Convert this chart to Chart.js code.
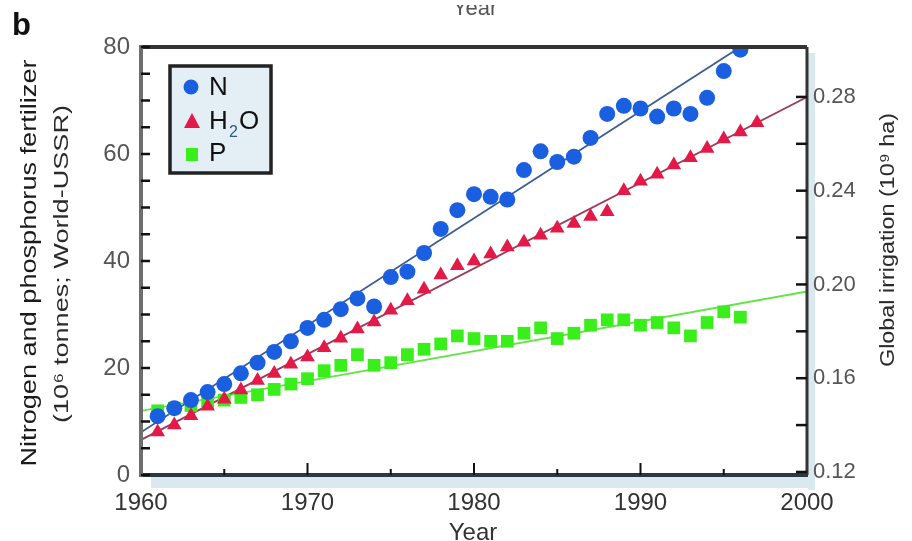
<!DOCTYPE html>
<html>
<head>
<meta charset="utf-8">
<script src="https://cdn.jsdelivr.net/npm/chart.js@4.4.0/dist/chart.umd.min.js"></script>
<style>
body { margin: 0; background: #fff; }
#wrap { position: relative; width: 912px; height: 541px; }
</style>
</head>
<body>
<div id="wrap"><canvas id="fertChart"></canvas></div>
<script>
// fertilizer (10^6 tonnes, left axis)
const nYears = [1961, 1962, 1963, 1964, 1965, 1966, 1967, 1968, 1969, 1970, 1971, 1972, 1973, 1974, 1975, 1976, 1977, 1978,
                1979, 1980, 1981, 1982, 1983, 1984, 1985, 1986, 1987, 1988, 1989, 1990, 1991, 1992, 1993, 1994, 1995, 1996];
const nitrogen = [11, 12.5, 14, 15.5, 17, 19, 21, 23, 25, 27.5, 29, 31, 33, 31.5, 37, 38, 41.5, 46,
                  49.5, 52.5, 52, 51.5, 57, 60.5, 58.5, 59.5, 63, 67.5, 69, 68.5, 67, 68.5, 67.5, 70.5, 75.5, 79.5];
const phosphorus = [12, 12.5, 13, 13.5, 14, 14.5, 15, 16, 17, 18, 19.5, 20.5, 22.5, 20.5, 21, 22.5, 23.5, 24.5,
                    26, 25.5, 25, 25, 26.5, 27.5, 25.5, 26.5, 28, 29, 29, 28, 28.5, 27.5, 26, 28.5, 30.5, 29.5];

// irrigation (10^9 ha, right axis)
const h2oYears = [1961, 1962, 1963, 1964, 1965, 1966, 1967, 1968, 1969, 1970, 1971, 1972, 1973, 1974, 1975, 1976, 1977, 1978, 1979,
                  1980, 1981, 1982, 1983, 1984, 1985, 1986, 1987, 1988, 1989, 1990, 1991, 1992, 1993, 1994, 1995, 1996, 1997];
const irrigation = [0.137, 0.140, 0.144, 0.148, 0.151, 0.155, 0.159, 0.162, 0.166, 0.169, 0.173, 0.177, 0.181, 0.184, 0.189, 0.193, 0.198, 0.204, 0.208,
                    0.210, 0.213, 0.216, 0.218, 0.221, 0.224, 0.226, 0.229, 0.231, 0.240, 0.244, 0.247, 0.251, 0.254, 0.258, 0.262, 0.265, 0.269];

// fitted trend lines (end points)
const nTrendYears = [1960, 1996];
const nTrend = [8, 80];
const h2oTrendYears = [1960, 2000];
const h2oTrend = [0.1337, 0.28];
const pTrendYears = [1960, 2000];
const pTrend = [12, 34.3];

// tick labels
const xTicks = [1960, 1970, 1980, 1990, 2000];
const leftTicks = [0, 20, 40, 60, 80];
const rightTicks = [0.12, 0.16, 0.20, 0.24, 0.28];

const blue = '#1a5fe0';
const red = '#e31a48';
const green = '#3aee1c';

function pts(xs, ys) {
    return xs.map((x, i) => ({ x: x, y: ys[i] }));
}

function vText(ctx, text, cx, cy, font, len, color) {
    ctx.save();
    ctx.font = font;
    const w = ctx.measureText(text).width;
    ctx.translate(cx, cy);
    ctx.rotate(-Math.PI / 2);
    ctx.scale(len / w, 1);
    ctx.fillStyle = color;
    ctx.textAlign = 'center';
    ctx.textBaseline = 'middle';
    ctx.fillText(text, 0, 0);
    ctx.restore();
}

const decorPlugin = {
    id: 'decor',
    beforeDraw(chart) {
        const ctx = chart.ctx;
        const a = chart.chartArea;
        ctx.save();
        // soft blue shadow right and below the frame
        ctx.fillStyle = '#dae8ef';
        ctx.fillRect(a.right + 1, a.top + 6, 7, a.bottom - a.top + 9);
        ctx.fillRect(a.left + 10, a.bottom + 2, a.right - a.left - 2, 11);
        ctx.restore();

        // texts
        ctx.save();
        ctx.fillStyle = '#111';
        ctx.font = 'bold 31px "Liberation Sans", Arial, sans-serif';
        ctx.textBaseline = 'alphabetic';
        ctx.fillText('b', 12, 35);
        // clipped title from the panel above
        ctx.beginPath();
        ctx.rect(0, 5, 912, 20);
        ctx.clip();
        ctx.fillStyle = '#555';
        ctx.font = '22px "Liberation Sans", Arial, sans-serif';
        ctx.textAlign = 'center';
        ctx.fillText('Year', 475, 15);
        ctx.restore();

        vText(ctx, 'Nitrogen and phosphorus fertilizer', 30, 263, '22px "Liberation Sans", Arial, sans-serif', 407, '#1a1a1a');
        vText(ctx, '(10\u2076 tonnes; World-USSR)', 62, 264, '20px "Liberation Sans", Arial, sans-serif', 318, '#2a2a2a');
        vText(ctx, 'Global irrigation (10\u2079 ha)', 888, 240, '21px "Liberation Sans", Arial, sans-serif', 254, '#2a2a2a');

        ctx.save();
        ctx.fillStyle = '#333';
        ctx.font = '24px "Liberation Sans", Arial, sans-serif';
        ctx.textAlign = 'center';
        ctx.fillText('Year', 473, 540);
        ctx.restore();
    },
    afterDraw(chart) {
        const ctx = chart.ctx;
        const a = chart.chartArea;
        const sx = chart.scales.x, sy = chart.scales.y, sy1 = chart.scales.y1;
        ctx.save();
        // frame
        ctx.strokeStyle = '#333';
        ctx.lineWidth = 4;
        ctx.beginPath();
        ctx.moveTo(a.left, a.top);
        ctx.lineTo(a.right, a.top);
        ctx.stroke();
        ctx.lineWidth = 3;
        ctx.beginPath();
        ctx.moveTo(a.right, a.top);
        ctx.lineTo(a.right, a.bottom);
        ctx.stroke();
        ctx.strokeStyle = '#2a3a40';
        ctx.lineWidth = 4;
        ctx.beginPath();
        ctx.moveTo(a.left, a.bottom);
        ctx.lineTo(a.right + 1, a.bottom);
        ctx.stroke();
        ctx.strokeStyle = '#6e6e6e';
        ctx.lineWidth = 4;
        ctx.beginPath();
        ctx.moveTo(a.left, a.top - 2);
        ctx.lineTo(a.left, a.bottom + 2);
        ctx.stroke();

        // ticks pointing inward
        ctx.strokeStyle = '#111';
        ctx.lineWidth = 2.5;
        for (let v = 0; v <= 80; v += 5) {
            const y = sy.getPixelForValue(v);
            ctx.beginPath();
            ctx.moveTo(a.left, y);
            ctx.lineTo(a.left + 9, y);
            ctx.stroke();
        }
        for (let v = 0.12; v <= 0.2801; v += 0.02) {
            const y = sy1.getPixelForValue(v);
            ctx.beginPath();
            ctx.moveTo(a.right, y);
            ctx.lineTo(a.right - 11, y);
            ctx.stroke();
        }
        ctx.lineWidth = 2;
        for (let v = 1965; v < 2000; v += 5) {
            const x = sx.getPixelForValue(v);
            const len = v % 10 === 0 ? 12 : 6;
            ctx.beginPath();
            ctx.moveTo(x, a.bottom);
            ctx.lineTo(x, a.bottom - len);
            ctx.stroke();
        }
        ctx.restore();

        // legend box
        ctx.save();
        ctx.fillStyle = '#e4eef5';
        ctx.fillRect(170, 66, 101, 107);
        ctx.strokeStyle = '#222';
        ctx.lineWidth = 3.5;
        ctx.strokeRect(170, 66, 101, 107);

        ctx.fillStyle = blue;
        ctx.beginPath();
        ctx.arc(191, 87, 7.5, 0, Math.PI * 2);
        ctx.fill();

        ctx.fillStyle = red;
        ctx.beginPath();
        ctx.moveTo(192, 113);
        ctx.lineTo(200, 128);
        ctx.lineTo(184, 128);
        ctx.closePath();
        ctx.fill();

        ctx.fillStyle = green;
        ctx.fillRect(186, 148, 12, 13);

        ctx.fillStyle = '#111';
        ctx.font = '26px "Liberation Sans", Arial, sans-serif';
        ctx.textBaseline = 'middle';
        ctx.fillText('N', 209, 88);
        ctx.fillText('H', 209, 122);
        ctx.fillText('P', 209, 154);
        ctx.fillStyle = '#2a5a8a';
        ctx.font = '16px "Liberation Sans", Arial, sans-serif';
        ctx.fillText('2', 229, 133);
        ctx.fillStyle = '#111';
        ctx.font = '26px "Liberation Sans", Arial, sans-serif';
        ctx.fillText('O', 239, 122);
        ctx.restore();
    }
};

const ctx = document.getElementById('fertChart');
new Chart(ctx, {
    type: 'scatter',
    data: {
        datasets: [
            {
                label: 'N',
                data: pts(nYears, nitrogen),
                yAxisID: 'y',
                pointStyle: 'circle',
                pointRadius: 8,
                backgroundColor: blue,
                borderColor: blue,
                borderWidth: 0
            },
            {
                label: 'H2O',
                data: pts(h2oYears, irrigation),
                yAxisID: 'y1',
                pointStyle: 'triangle',
                pointRadius: 8.5,
                backgroundColor: red,
                borderColor: red,
                borderWidth: 0
            },
            {
                label: 'P',
                data: pts(nYears, phosphorus),
                yAxisID: 'y',
                pointStyle: 'rect',
                pointRadius: 9,
                backgroundColor: green,
                borderColor: green,
                borderWidth: 0
            },
            {
                label: 'N trend',
                data: pts(nTrendYears, nTrend),
                yAxisID: 'y',
                showLine: true,
                pointRadius: 0,
                borderColor: '#3b5c94',
                borderWidth: 1.8
            },
            {
                label: 'H2O trend',
                data: pts(h2oTrendYears, h2oTrend),
                yAxisID: 'y1',
                showLine: true,
                pointRadius: 0,
                borderColor: '#9c3a5c',
                borderWidth: 1.8
            },
            {
                label: 'P trend',
                data: pts(pTrendYears, pTrend),
                yAxisID: 'y',
                showLine: true,
                pointRadius: 0,
                borderColor: '#62e545',
                borderWidth: 1.8
            }
        ]
    },
    options: {
        responsive: true,
        maintainAspectRatio: false,
        animation: false,
        layout: { padding: { top: 47, left: 0, right: 0, bottom: 0 } },
        plugins: {
            legend: { display: false },
            tooltip: { enabled: false }
        },
        scales: {
            x: {
                type: 'linear',
                min: 1960,
                max: 2000,
                grid: { display: false, drawTicks: false },
                border: { display: false },
                afterBuildTicks: s => { s.ticks = xTicks.map(v => ({ value: v })); },
                afterFit: s => { s.height = 66; },
                ticks: {
                    padding: 14,
                    color: '#333',
                    font: { family: '"Liberation Sans", Arial, sans-serif', size: 24 },
                    callback: v => String(v)
                }
            },
            y: {
                position: 'left',
                min: 0,
                max: 80,
                grid: { display: false, drawTicks: false },
                border: { display: false },
                afterBuildTicks: s => { s.ticks = leftTicks.map(v => ({ value: v })); },
                afterFit: s => { s.width = 141; },
                ticks: {
                    padding: 11,
                    color: '#555',
                    font: { family: '"Liberation Sans", Arial, sans-serif', size: 24 },
                    callback: v => String(v)
                }
            },
            y1: {
                position: 'right',
                min: 0.1187,
                max: 0.3013,
                grid: { display: false, drawTicks: false },
                border: { display: false },
                afterBuildTicks: s => { s.ticks = rightTicks.map(v => ({ value: v })); },
                afterFit: s => { s.width = 105; },
                ticks: {
                    padding: 6,
                    color: '#555',
                    font: { family: '"Liberation Sans", Arial, sans-serif', size: 22 },
                    callback: v => v.toFixed(2)
                }
            }
        }
    },
    plugins: [decorPlugin]
});
</script>
</body>
</html>
